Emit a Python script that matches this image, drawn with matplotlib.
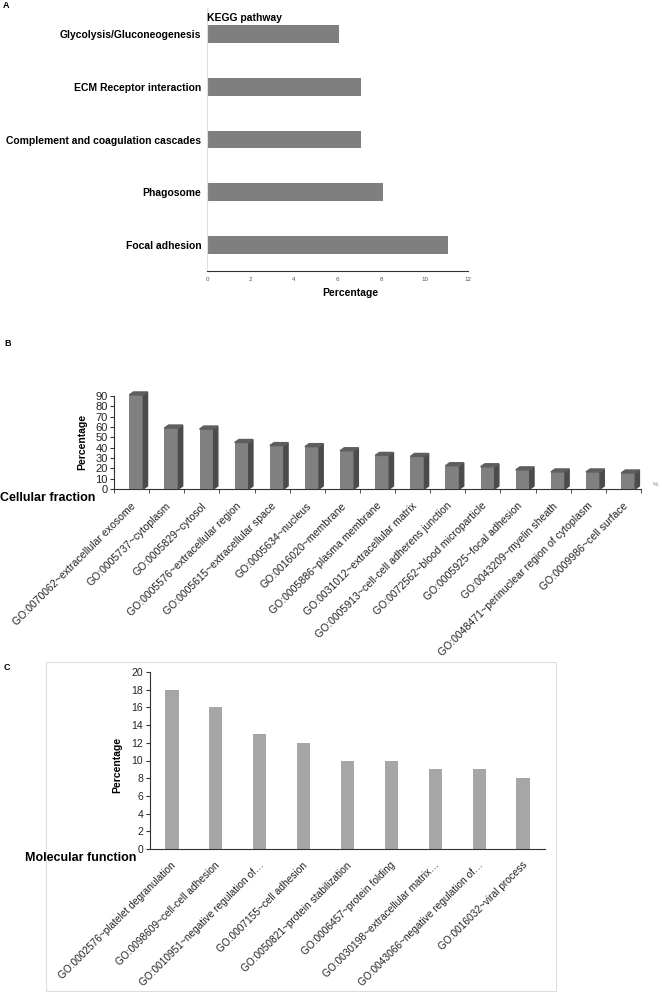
import matplotlib
matplotlib.use("Agg")
import matplotlib.pyplot as plt
from matplotlib.patches import Rectangle, Polygon
from matplotlib.transforms import ScaledTranslation

plt.rcParams['font.family'] = ['Liberation Sans', 'DejaVu Sans']

# panel A - KEGG pathway
kegg_terms = ["Focal adhesion", "Phagosome", "Complement and coagulation cascades",
              "ECM Receptor interaction", "Glycolysis/Gluconeogenesis"]
kegg_pct = [11.1, 8.08, 7.08, 7.08, 6.07]

# panel B - cellular fraction
cc_terms = ["GO:0070062~extracellular exosome", "GO:0005737~cytoplasm", "GO:0005829~cytosol",
            "GO:0005576~extracellular region", "GO:0005615~extracellular space",
            "GO:0005634~nucleus", "GO:0016020~membrane", "GO:0005886~plasma membrane",
            "GO:0031012~extracellular matrix", "GO:0005913~cell-cell adherens junction",
            "GO:0072562~blood microparticle", "GO:0005925~focal adhesion",
            "GO:0043209~myelin sheath", "GO:0048471~perinuclear region of cytoplasm",
            "GO:0009986~cell surface"]
cc_pct = [91, 59, 58, 45, 42, 41, 37, 32.5, 31.5, 22.5, 21.5, 18.5, 16.5, 16.5, 15.5]

# panel C - molecular function
mf_terms = ["GO:0002576~platelet degranulation", "GO:0098609~cell-cell adhesion",
            "GO:0010951~negative regulation of\u2026", "GO:0007155~cell adhesion",
            "GO:0050821~protein stabilization", "GO:0006457~protein folding",
            "GO:0030198~extracellular matrix\u2026", "GO:0043066~negative regulation of\u2026",
            "GO:0016032~viral process"]
mf_pct = [18, 16, 13, 12, 10, 10, 9, 9, 8]

W, H = 662, 992
fig = plt.figure(figsize=(W / 100, H / 100), dpi=100)


def px_axes(l, t, r, b):
    return fig.add_axes([l / W, 1 - b / H, (r - l) / W, (b - t) / H])


def ftext(x, y, s, **kw):
    fig.text(x / W, 1 - y / H, s, **kw)


def shift(labels, dx_px):
    for lab in labels:
        lab.set_transform(lab.get_transform() + ScaledTranslation(dx_px / 100, 0, fig.dpi_scale_trans))


# ---------- A ----------
axA = px_axes(207, 7.6, 468, 271.4)
axA.barh(range(len(kegg_terms)), kegg_pct, height=0.34, color="#7f7f7f")
axA.set_xlim(0, 12)
axA.set_ylim(-0.5, 4.5)
axA.set_xticks(range(0, 13, 2))
axA.set_yticks(range(len(kegg_terms)))
axA.set_yticklabels(kegg_terms, fontsize=7.5, fontweight="bold")
axA.tick_params(axis="y", length=0, pad=4)
axA.tick_params(axis="x", length=0, pad=4, labelsize=4.5, labelcolor="#555555")
for s in ["top", "right"]:
    axA.spines[s].set_visible(False)
axA.spines["left"].set_color("#e0e0e0")
axA.spines["bottom"].set_color("#333333")
ftext(207, 18, "KEGG pathway", fontsize=7.5, fontweight="bold", va="center", ha="left")
ftext(350, 293, "Percentage", fontsize=7.5, fontweight="bold", va="center", ha="center")
ftext(3, 6, "A", fontsize=6.5, fontweight="bold", va="center", ha="left")

# ---------- B ----------
axB = px_axes(114, 396, 641, 489)
n = len(cc_terms)
fw, off, dx, dy = 0.4, 0.135, 0.12, 2.9
xs = [i + off for i in range(n)]
axB.bar(xs, cc_pct, width=fw, color="#808080", clip_on=False, zorder=3)
for x, v in zip(xs, cc_pct):
    xl, xr = x - fw / 2, x + fw / 2
    axB.add_patch(Polygon([(xr, 0), (xr + dx, dy), (xr + dx, v + dy), (xr, v)],
                          closed=True, color="#4b4b4b", clip_on=False, zorder=3))
    axB.add_patch(Polygon([(xl, v), (xl + dx, v + dy), (xr + dx, v + dy), (xr, v)],
                          closed=True, color="#5e5e5e", clip_on=False, zorder=3))
axB.set_xlim(-0.5, n - 0.5)
axB.set_ylim(0, 90)
axB.set_yticks(range(0, 91, 10))
axB.set_xticks(range(n))
axB.set_xticklabels(cc_terms, rotation=45, ha="right", va="top", rotation_mode="anchor", fontsize=7.6)
axB.set_xticks([i + 0.5 for i in range(-1, n)], minor=True)
axB.tick_params(axis="x", which="major", length=0, pad=8.5, labelcolor="#222222")
axB.tick_params(axis="x", which="minor", length=3, color="#333333")
axB.tick_params(axis="y", length=3, labelsize=8, pad=1.5, color="#333333", labelcolor="#222222")
shift(axB.get_xticklabels(), -1)
for s in ["top", "right"]:
    axB.spines[s].set_visible(False)
axB.spines["left"].set_color("#333333")
axB.spines["bottom"].set_color("#333333")
ftext(82, 442, "Percentage", fontsize=7.5, fontweight="bold", rotation=90, va="center", ha="center")
ftext(0, 498, "Cellular fraction", fontsize=9, fontweight="bold", va="center", ha="left")
ftext(656, 484, "%", fontsize=4.5, color="#888888", va="center", ha="center")
ftext(4, 343, "B", fontsize=6.5, fontweight="bold", va="center", ha="left")

# ---------- C ----------
fig.patches.append(Rectangle((46 / W, 1 - 991 / H), 510 / W, 329 / H, transform=fig.transFigure,
                             fill=False, edgecolor="#dddddd", linewidth=0.8))
axC = px_axes(150, 672, 545, 849)
axC.bar(range(len(mf_terms)), mf_pct, width=0.3, color="#a6a6a6")
axC.set_xlim(-0.5, len(mf_terms) - 0.5)
axC.set_ylim(0, 20)
axC.set_yticks(range(0, 21, 2))
axC.set_xticks(range(len(mf_terms)))
axC.set_xticklabels(mf_terms, rotation=45, ha="right", va="top", rotation_mode="anchor", fontsize=7.3)
axC.tick_params(axis="x", length=0, pad=8, labelcolor="#222222")
axC.tick_params(axis="y", length=3, labelsize=7.5, pad=2, color="#333333", labelcolor="#222222")
shift(axC.get_xticklabels(), -1)
for s in ["top", "right"]:
    axC.spines[s].set_visible(False)
axC.spines["left"].set_color("#333333")
axC.spines["bottom"].set_color("#333333")
ftext(117, 765, "Percentage", fontsize=7.5, fontweight="bold", rotation=90, va="center", ha="center")
ftext(25, 858, "Molecular function", fontsize=9, fontweight="bold", va="center", ha="left")
ftext(4, 668, "C", fontsize=6.5, fontweight="bold", va="center", ha="left")

fig.savefig("out.png", dpi=100)
